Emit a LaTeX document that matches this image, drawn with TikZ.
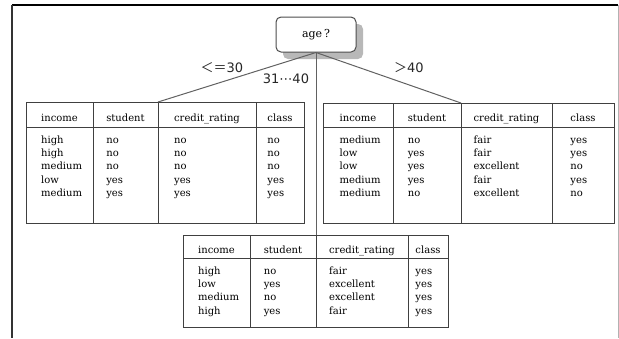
\documentclass[tikz,border=0pt]{standalone}
\usepackage{fontspec}
\setmainfont{DejaVu Serif}
\newfontfamily\lblfont{DejaVu Sans}
\newfontfamily\jpfont{Noto Sans CJK JP}
\usetikzlibrary{shadows}
\tikzset{
  tline/.style={draw=black!75, line width=1pt},
  conn/.style={draw=black!62, line width=1pt},
  tbox/.style={tline, inner sep=0pt, anchor=north west},
  hdr/.style={font=\fontsize{10}{12}\selectfont, inner sep=0pt, anchor=base},
  colx/.style={font=\fontsize{10}{13.3}\selectfont, align=left, inner sep=0pt, anchor=north west},
  lbl/.style={font=\lblfont\fontsize{13}{15}\selectfont, inner sep=0pt, text=black!85},
  agebox/.style={draw=black!70, line width=1pt, fill=white, rounded corners=5pt,
    minimum width=80pt, minimum height=35pt, inner sep=0pt,
    font=\fontsize{11}{13}\selectfont,
    drop shadow={shadow xshift=7pt, shadow yshift=-7pt, fill=black!28, opacity=1}},
}
\begin{document}
\begin{tikzpicture}[x=1pt,y=-1pt]
\useasboundingbox (0,0) rectangle (619,338);
% frame
\coordinate (fTL) at (12,5);
\coordinate (fTR) at (618,5);
\coordinate (fBL) at (12,338);
\coordinate (fBR) at (618,338);
\draw[black, line width=1.2pt] (fTL) -- (fTR);
\draw[black!80, line width=1.6pt] (fTL) -- (fBL);
\draw[black!30, line width=1pt] (fTR) -- (fBR);

% root
\node[agebox] (age) at (316,34.5) {age\,?};

% table 1 (<=30)
\node[tbox, minimum width=278pt, minimum height=121pt] (t1) at (26,102) {};
\draw[tline] (26,127) -- (304,127);
\foreach \x in {93,158,256} \draw[tline] (\x,102) -- (\x,223);
\coordinate (t1top) at (158,102);
\node[hdr] (t1h1) at (59.5,121) {income};
\node[hdr] (t1h2) at (125.5,121) {student};
\node[hdr] (t1h3) at (207,121) {credit\_rating};
\node[hdr] (t1h4) at (280,121) {class};
\node[colx] (t1d1) at (t1h1.west |- 0,133.7) {\strut high\\high\\medium\\low\\medium};
\node[colx] (t1d2) at (t1h2.west |- 0,133.7) {\strut no\\no\\no\\yes\\yes};
\node[colx] (t1d3) at (t1h3.west |- 0,133.7) {\strut no\\no\\no\\yes\\yes};
\node[colx] (t1d4) at (t1h4.west |- 0,133.7) {\strut no\\no\\no\\yes\\yes};

% table 2 (>40)
\node[tbox, minimum width=291pt, minimum height=120pt] (t2) at (323,103) {};
\draw[tline] (323,127) -- (614,127);
\foreach \x in {393,461,552} \draw[tline] (\x,103) -- (\x,223);
\coordinate (t2top) at (461,103);
\node[hdr] (t2h1) at (358,121) {income};
\node[hdr] (t2h2) at (427,121) {student};
\node[hdr] (t2h3) at (506.5,121) {credit\_rating};
\node[hdr] (t2h4) at (583,121) {class};
\node[colx] (t2d1) at (t2h1.west |- 0,133.7) {\strut medium\\low\\low\\medium\\medium};
\node[colx] (t2d2) at (t2h2.west |- 0,133.7) {\strut no\\yes\\yes\\yes\\no};
\node[colx] (t2d3) at (t2h3.west |- 0,133.7) {\strut fair\\fair\\excellent\\fair\\excellent};
\node[colx] (t2d4) at (t2h4.west |- 0,133.7) {\strut yes\\yes\\no\\yes\\no};

% table 3 (31...40)
\node[tbox, minimum width=265pt, minimum height=92pt] (t3) at (183,235) {};
\draw[tline] (183,258) -- (448,258);
\foreach \x in {250,316,408} \draw[tline] (\x,235) -- (\x,327);
\coordinate (t3top) at (316,235);
\node[hdr] (t3h1) at (216.5,253) {income};
\node[hdr] (t3h2) at (283,253) {student};
\node[hdr] (t3h3) at (362,253) {credit\_rating};
\node[hdr] (t3h4) at (428,253) {class};
\node[colx] (t3d1) at (t3h1.west |- 0,264.7) {\strut high\\low\\medium\\high};
\node[colx] (t3d2) at (t3h2.west |- 0,264.7) {\strut no\\yes\\no\\yes};
\node[colx] (t3d3) at (t3h3.west |- 0,264.7) {\strut fair\\excellent\\excellent\\fair};
\node[colx] (t3d4) at (t3h4.west |- 0,264.7) {\strut yes\\yes\\yes\\yes};

% connectors
\draw[conn] (age.south) -- (t1top);
\draw[conn] (age.south) -- (t3top);
\draw[conn] (age.south) -- (t2top);

% branch labels
\node[lbl] (l1) at (222,68) {{\jpfont ＜＝}30};
\node[lbl] (l2) at (286,79) {31⋯40};
\node[lbl] (l3) at (409,68) {{\jpfont ＞}40};
\end{tikzpicture}
\end{document}
